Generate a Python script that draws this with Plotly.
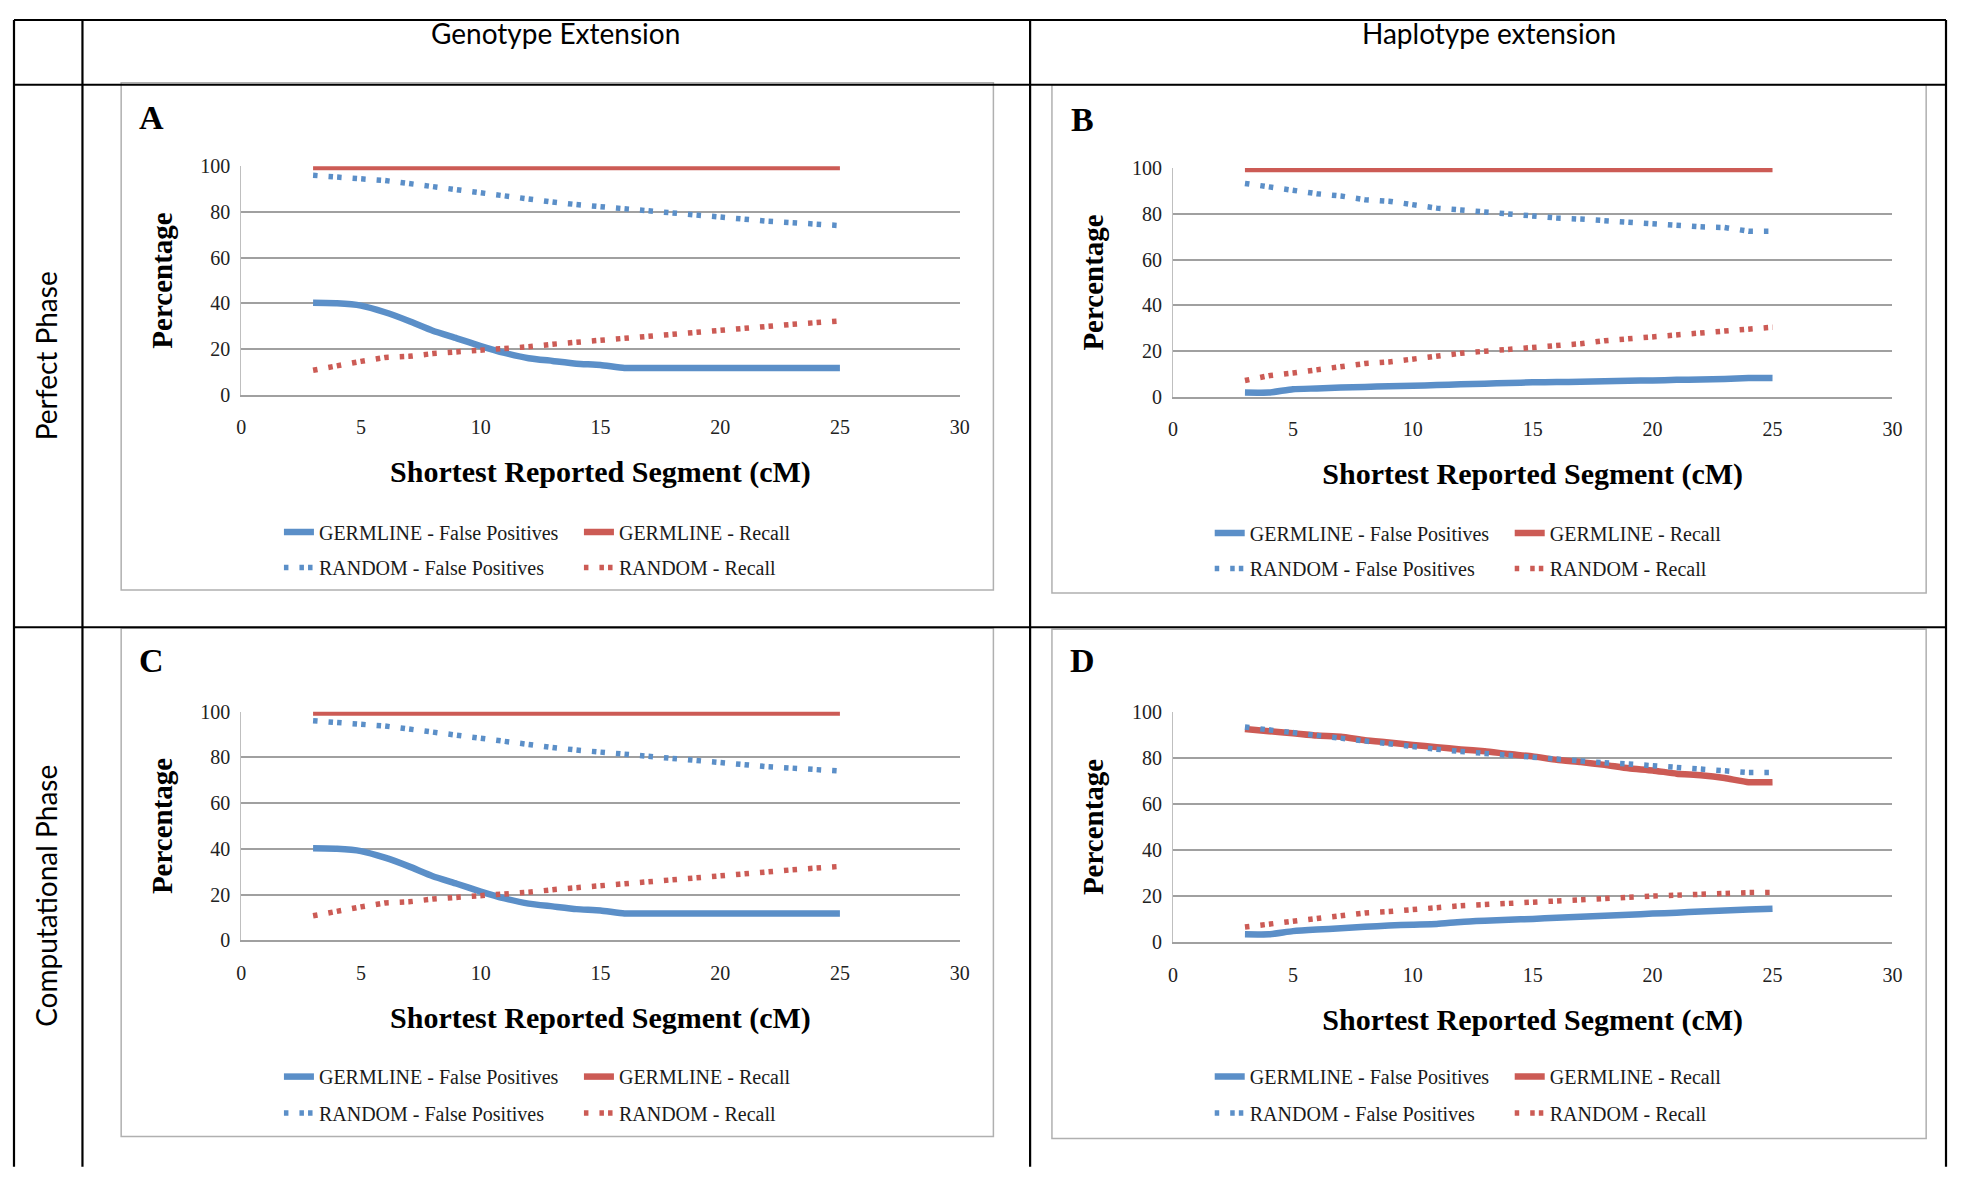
import plotly.graph_objects as go

# The page adds an 8px body margin, so the figure is 16px smaller than the window
# and all reference (window) coordinates are shifted by 8px.
WIN_W, WIN_H = 1965, 1178
OFF = 8
W, H = WIN_W - 2 * OFF, WIN_H - 2 * OFF

# ---------------- data ----------------
seg_cm = [3, 4, 5, 6, 7, 8, 9, 10, 11, 12, 13, 14, 15, 16, 17, 18, 19, 20, 21, 22, 23, 24, 25]

A_germ_fp = [40.2, 40.0, 39.0, 36.1, 32.3, 28.0, 24.7, 21.3, 18.3, 16.0, 14.8, 13.6, 13.0, 11.7, 11.7, 11.7, 11.7, 11.7, 11.7, 11.7, 11.7, 11.7, 11.7]
A_germ_recall = [99.6, 99.6, 99.6, 99.6, 99.6, 99.6, 99.6, 99.6, 99.6, 99.6, 99.6, 99.6, 99.6, 99.6, 99.6, 99.6, 99.6, 99.6, 99.6, 99.6, 99.6, 99.6, 99.6]
A_rand_fp = [96.0, 95.3, 94.7, 93.7, 92.4, 91.0, 89.5, 88.0, 86.7, 85.4, 84.3, 83.2, 82.3, 81.0, 80.0, 79.4, 78.5, 77.6, 76.7, 75.9, 75.3, 74.4, 74.0]
A_rand_recall = [10.7, 12.8, 14.6, 16.3, 16.8, 18.0, 18.6, 19.8, 20.4, 21.0, 22.1, 22.9, 23.9, 25.0, 25.8, 26.7, 27.4, 28.2, 29.1, 29.9, 30.8, 31.6, 32.3]

B_germ_fp = [1.8, 1.8, 3.3, 3.6, 4.0, 4.3, 4.6, 4.8, 5.1, 5.4, 5.7, 6.0, 6.3, 6.4, 6.5, 6.8, 7.0, 7.1, 7.4, 7.5, 7.8, 8.2, 8.2]
B_germ_recall = [99.6, 99.6, 99.6, 99.6, 99.6, 99.6, 99.6, 99.6, 99.6, 99.6, 99.6, 99.6, 99.6, 99.6, 99.6, 99.6, 99.6, 99.6, 99.6, 99.6, 99.6, 99.6, 99.6]
B_rand_fp = [93.3, 91.6, 90.3, 88.8, 87.8, 86.2, 85.5, 83.8, 82.5, 81.7, 80.7, 80.0, 79.1, 78.2, 77.7, 77.0, 76.0, 75.4, 74.8, 74.3, 74.0, 72.4, 72.4]
B_rand_recall = [7.1, 9.2, 10.4, 11.9, 12.8, 14.5, 15.2, 16.6, 17.8, 19.0, 19.9, 20.6, 21.3, 22.2, 23.2, 24.5, 25.3, 26.5, 27.0, 27.7, 28.6, 29.7, 30.4]

C_germ_fp = [40.2, 40.0, 39.0, 36.1, 32.3, 28.0, 24.7, 21.3, 18.3, 16.0, 14.8, 13.6, 13.0, 11.7, 11.7, 11.7, 11.7, 11.7, 11.7, 11.7, 11.7, 11.7, 11.7]
C_germ_recall = [99.6, 99.6, 99.6, 99.6, 99.6, 99.6, 99.6, 99.6, 99.6, 99.6, 99.6, 99.6, 99.6, 99.6, 99.6, 99.6, 99.6, 99.6, 99.6, 99.6, 99.6, 99.6, 99.6]
C_rand_fp = [96.0, 95.3, 94.7, 93.7, 92.4, 91.0, 89.5, 88.0, 86.7, 85.4, 84.3, 83.2, 82.3, 81.0, 80.0, 79.4, 78.5, 77.6, 76.7, 75.9, 75.3, 74.4, 74.0]
C_rand_recall = [10.7, 12.8, 14.6, 16.3, 16.8, 18.0, 18.6, 19.8, 20.4, 21.0, 22.1, 22.9, 23.9, 25.0, 25.8, 26.7, 27.4, 28.2, 29.1, 29.9, 30.8, 31.6, 32.3]

D_germ_fp = [3.4, 3.4, 4.8, 5.5, 6.0, 6.7, 7.2, 7.6, 7.9, 8.8, 9.3, 9.7, 10.1, 10.6, 11.0, 11.5, 11.9, 12.4, 12.8, 13.3, 13.7, 14.2, 14.5]
D_germ_recall = [92.5, 91.5, 90.6, 89.6, 89.1, 87.6, 86.6, 85.5, 84.6, 83.6, 82.8, 81.6, 80.6, 79.1, 78.1, 76.9, 75.4, 74.5, 73.1, 72.4, 71.2, 69.4, 69.4]
D_rand_fp = [93.3, 92.1, 90.7, 89.3, 88.0, 87.0, 86.0, 84.8, 83.7, 82.7, 81.8, 80.9, 80.1, 79.6, 78.7, 77.8, 77.3, 76.6, 76.0, 75.2, 74.2, 73.6, 73.6]
D_rand_recall = [6.6, 7.8, 9.0, 10.7, 11.6, 12.7, 13.3, 14.2, 14.9, 15.8, 16.3, 16.9, 17.5, 18.2, 18.8, 19.1, 19.6, 20.0, 20.4, 20.9, 21.2, 21.5, 21.6]

series_names = ["GERMLINE - False Positives", "GERMLINE - Recall",
                "RANDOM - False Positives", "RANDOM - Recall"]
panel_letters = ["A", "B", "C", "D"]
col_headers = ["Genotype Extension", "Haplotype extension"]
row_headers = ["Perfect Phase", "Computational Phase"]
x_title = "Shortest Reported Segment (cM)"
y_title = "Percentage"

panels = [
    (A_germ_fp, A_germ_recall, A_rand_fp, A_rand_recall),
    (B_germ_fp, B_germ_recall, B_rand_fp, B_rand_recall),
    (C_germ_fp, C_germ_recall, C_rand_fp, C_rand_recall),
    (D_germ_fp, D_germ_recall, D_rand_fp, D_rand_recall),
]

# ---------------- styling / layout geometry (window pixels) ----------------
BLUE = "#5b8fc8"
RED = "#cc5b55"
GRID = "#a0a0a0"
SERIF = "Liberation Serif"
SANS = "Lato"

def px(x):
    return (x - OFF) / W

def py(y):
    return 1 - (y - OFF) / H

# plot areas: (x0, x1, ytop, ybottom)
plot_px = [(238, 962, 158, 391), (1177, 1902, 160, 393),
           (238, 962, 714, 947), (1177, 1902, 714, 949)]
box_px = [(117, 996, 73, 590), (1055, 1936, 75, 593),
          (117, 996, 629, 1147), (1055, 1936, 630, 1149)]
letter_px = [(148, 108), (1086, 110), (148, 662), (1086, 662)]
legend_px = [(276, 531, 567), (1214, 532, 568), (276, 1086, 1123), (1214, 1086, 1123)]

fig = go.Figure()
layout = dict(
    width=W, height=H, margin=dict(l=0, r=0, t=0, b=0),
    paper_bgcolor="white", plot_bgcolor="white", showlegend=True,
)

dash_dots = "4.5px,11px,4.5px,4.1px"
styles = [
    dict(color=BLUE, width=6.5, shape="spline", smoothing=0.5),
    dict(color=RED, width=6.5, shape="spline", smoothing=0.5),
    dict(color=BLUE, width=5.5, dash=dash_dots),
    dict(color=RED, width=5.5, dash=dash_dots),
]

shapes = []
annotations = []

for i, data in enumerate(panels):
    sfx = "" if i == 0 else str(i + 1)
    xa, ya = "x" + sfx, "y" + sfx
    leg1 = "legend" if i == 0 else "legend" + str(2 * i + 1)
    leg2 = "legend" + str(2 * i + 2)
    for k in range(4):
        fig.add_trace(go.Scatter(
            x=seg_cm, y=data[k], mode="lines", name=series_names[k],
            line=styles[k], xaxis=xa, yaxis=ya, cliponaxis=False,
            legend=leg1 if k < 2 else leg2, hoverinfo="x+y+name",
        ))
    x0, x1, yt, yb = plot_px[i]
    layout["xaxis" + sfx] = dict(
        domain=[px(x0), px(x1)], anchor=ya, range=[0, 30], dtick=5, tick0=0,
        showgrid=False, zeroline=False, showline=True, linecolor=GRID, linewidth=1.5,
        ticks="", ticklabelstandoff=14,
        tickfont=dict(family=SERIF, size=20, color="#222"),
        title=dict(text=x_title, standoff=24,
                   font=dict(family=SERIF, size=30, color="black", weight="bold")),
    )
    layout["yaxis" + sfx] = dict(
        domain=[py(yb), py(yt)], anchor=xa, range=[0, 100], dtick=20, tick0=0,
        showgrid=True, gridcolor=GRID, gridwidth=1.5, zeroline=False,
        showline=True, linecolor="#bfbfbf", linewidth=1,
        ticks="", ticklabelstandoff=6,
        tickfont=dict(family=SERIF, size=20, color="#222"),
        title=dict(text=y_title, standoff=19,
                   font=dict(family=SERIF, size=29, color="black", weight="bold")),
    )
    lx, ly1, ly2 = legend_px[i]
    for name, yy in ((leg1, ly1), (leg2, ly2)):
        layout[name] = dict(
            orientation="h", x=px(lx), xanchor="left", y=py(yy), yanchor="middle",
            bgcolor="rgba(0,0,0,0)", entrywidth=255, entrywidthmode="pixels",
            font=dict(family=SERIF, size=20, color="#1a1a1a"), tracegroupgap=0,
        )
    bx0, bx1, by0, by1 = box_px[i]
    shapes.append(dict(type="rect", xref="paper", yref="paper",
                       x0=px(bx0), x1=px(bx1), y0=py(by0), y1=py(by1),
                       line=dict(color="#b0b0b0", width=1.5)))
    lxp, lyp = letter_px[i]
    annotations.append(dict(text=panel_letters[i], x=px(lxp), y=py(lyp),
                            xref="paper", yref="paper", showarrow=False,
                            xanchor="center", yanchor="middle",
                            font=dict(family=SERIF, size=34, color="black", weight="bold")))

# table frame (window px)
T_TOP, T_HDR, T_ROW, T_BOT = 9, 75, 628, 1178
T_L, T_C1, T_C2, T_R = 9, 78, 1033, 1956
table_lines = [
    (T_L, T_TOP, T_R, T_TOP), (T_L, T_HDR, T_R, T_HDR), (T_L, T_ROW, T_R, T_ROW),
    (T_L, T_TOP, T_L, T_BOT), (T_C1, T_TOP, T_C1, T_BOT),
    (T_C2, T_TOP, T_C2, T_BOT), (T_R, T_TOP, T_R, T_BOT),
]
for (a, b, c, d) in table_lines:
    shapes.append(dict(type="line", xref="paper", yref="paper",
                       x0=px(a), y0=py(b), x1=px(c), y1=py(d),
                       line=dict(color="black", width=2.2)))

hdr_font = dict(family=SANS, size=28, color="black")
annotations.append(dict(text=col_headers[0], x=px(555), y=py(22), xref="paper", yref="paper",
                        xanchor="center", yanchor="middle", showarrow=False, font=hdr_font))
annotations.append(dict(text=col_headers[1], x=px(1495), y=py(22), xref="paper", yref="paper",
                        xanchor="center", yanchor="middle", showarrow=False, font=hdr_font))
annotations.append(dict(text=row_headers[0], x=px(41), y=py(351), xref="paper", yref="paper",
                        xanchor="center", yanchor="middle", showarrow=False, textangle=-90,
                        font=hdr_font))
annotations.append(dict(text=row_headers[1], x=px(41), y=py(902), xref="paper", yref="paper",
                        xanchor="center", yanchor="middle", showarrow=False, textangle=-90,
                        font=hdr_font))

layout["shapes"] = shapes
layout["annotations"] = annotations
fig.update_layout(**layout)
fig.write_html("out.html", config={"displayModeBar": False})
